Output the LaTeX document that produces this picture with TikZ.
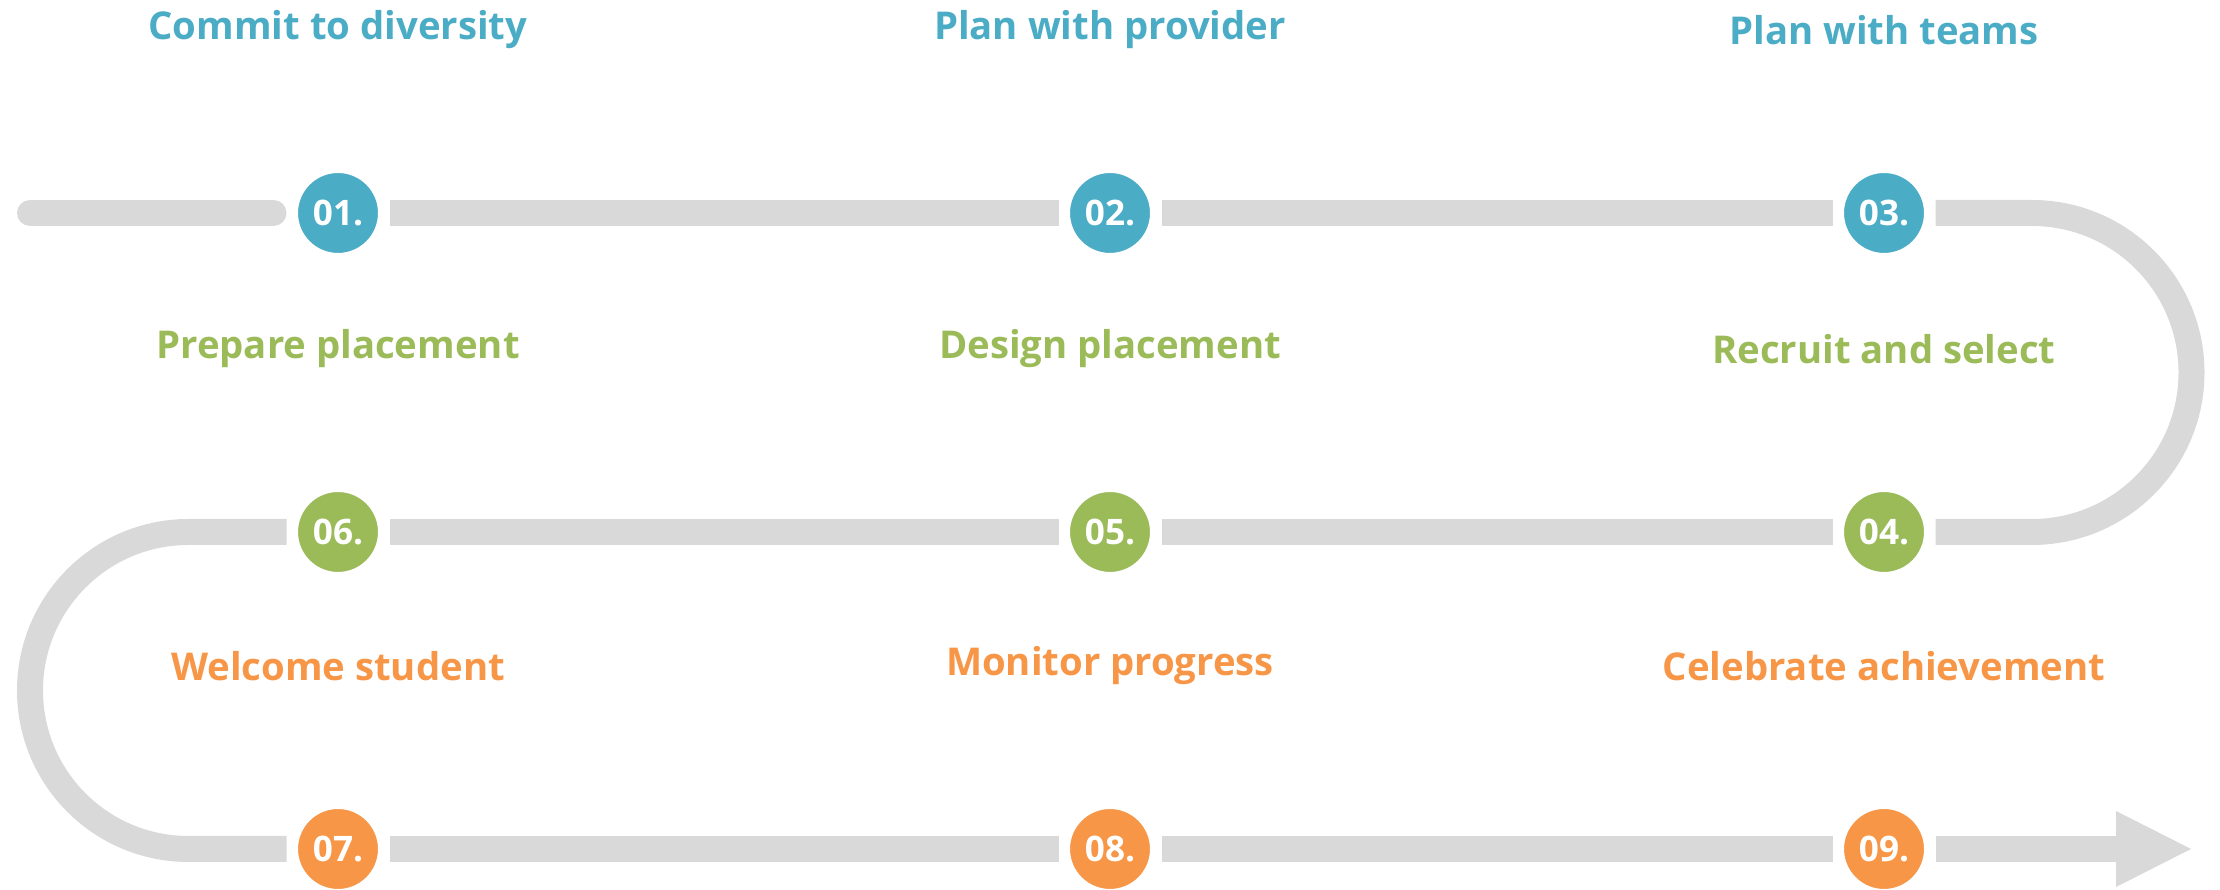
\documentclass[tikz,border=0pt]{standalone}
\usepackage{fontspec}
\setmainfont{Open Sans}
\usetikzlibrary{arrows.meta}

\begin{document}
\begin{tikzpicture}[line cap=butt,
		% Styles
		track/.style={line width=2.6mm, draw=trackcolor},
		stage dot/.style={circle, fill=#1, draw=white, line width=1.15mm, minimum size=9.15mm,
			inner sep=0pt, text=white, font=\bfseries\fontsize{10}{12}\selectfont},
		stage title/.style={text=#1, font=\bfseries\fontsize{10.9}{13}\selectfont}
		]
		
		% Colors
		\definecolor{planblue}{HTML}{4BACC6}
		\definecolor{prepgreen}{HTML}{9BBB59}
		\definecolor{runorange}{HTML}{F79646}
		\definecolor{trackcolor}{HTML}{D9D9D9}
		
		\useasboundingbox (0, 0) rectangle (22.2, 8.9);
		
		% The stages, three rows
		\foreach \n/\x/\y/\c in {01/3.38/6.77/planblue, 02/11.10/6.77/planblue, 03/18.84/6.77/planblue,
			04/18.84/3.58/prepgreen, 05/11.10/3.58/prepgreen, 06/3.38/3.58/prepgreen,
			07/3.38/0.41/runorange, 08/11.10/0.41/runorange, 09/18.84/0.41/runorange}
			\node[stage dot=\c] (s\n) at (\x, \y) {\n.};
		
		% Titles sit above their stage
		\foreach \n/\c/\t in {01/planblue/Commit to diversity, 02/planblue/Plan with provider,
			03/planblue/Plan with teams, 06/prepgreen/Prepare placement, 05/prepgreen/Design placement,
			04/prepgreen/Recruit and select, 07/runorange/Welcome student,
			08/runorange/Monitor progress, 09/runorange/Celebrate achievement}
			\node[stage title=\c] (t\n) at ([yshift=1.83cm]s\n) {\t};
		
		% Turning points of the track
		\coordinate (start) at (0.30, 6.77);
		\coordinate (right turn) at (20.32, 6.77);
		\coordinate (left turn) at (1.885, 3.58);
		\coordinate (finish) at (21.91, 0.41);
		
		% The track, stage to stage
		\draw[track, line cap=round, shorten >=1.3mm] (start) -- (s01);
		\draw[track] (s01) -- (s02);
		\draw[track] (s02) -- (s03);
		\draw[track] (s03) -- (right turn) arc [start angle=90, end angle=-90, radius=1.595cm] -- (s04);
		\draw[track] (s04) -- (s05);
		\draw[track] (s05) -- (s06);
		\draw[track] (s06) -- (left turn) arc [start angle=90, end angle=270, radius=1.585cm] -- (s07);
		\draw[track] (s07) -- (s08);
		\draw[track] (s08) -- (s09);
		\draw[track, -{Triangle[length=7.5mm, width=7.6mm, line width=0pt]}] (s09) -- (finish);
		
	\end{tikzpicture}
\end{document}
